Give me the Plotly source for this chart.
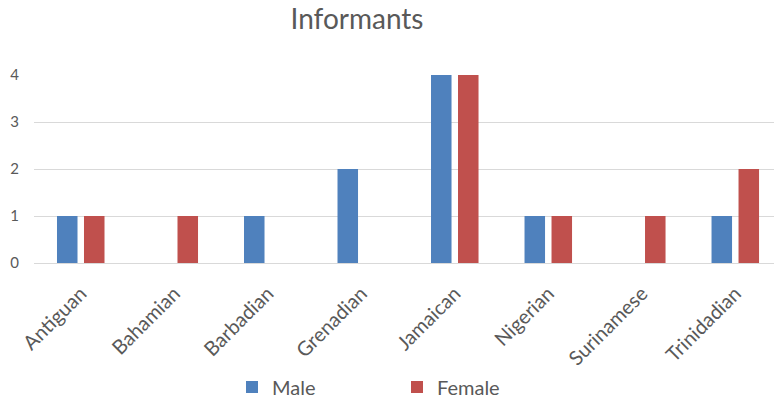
import plotly.graph_objects as go

# Informant counts by nationality and sex
categories = ["Antiguan", "Bahamian", "Barbadian", "Grenadian",
              "Jamaican", "Nigerian", "Surinamese", "Trinidadian"]
male = [1, 0, 1, 2, 4, 1, 0, 1]
female = [1, 1, 0, 0, 4, 1, 1, 2]
y_ticks = [0, 1, 2, 3, 4]

FONT = "Lato, 'Open Sans', sans-serif"
GREY = "#595959"

fig = go.Figure()
fig.add_trace(go.Bar(name="Male", x=categories, y=male, marker_color="#4F81BD",
                     marker_line_width=0))
fig.add_trace(go.Bar(name="Female", x=categories, y=female, marker_color="#C0504D",
                     marker_line_width=0))

fig.update_layout(
    width=774, height=400,
    margin=dict(l=34, r=0, t=75, b=137, autoexpand=False),
    paper_bgcolor="white", plot_bgcolor="white",
    barmode="group", bargap=0.4225, bargroupgap=0.24,
    title=dict(text="Informants", x=357 / 774, xanchor="center",
               y=1 - 19 / 400, yanchor="middle",
               font=dict(family=FONT, size=28, color=GREY)),
    font=dict(family=FONT, color=GREY),
    legend=dict(orientation="h", x=(232 - 34) / 740, xanchor="left",
                y=-(387 - 263) / 188, yanchor="middle",
                entrywidth=120, entrywidthmode="pixels",
                font=dict(family=FONT, size=20, color=GREY)),
    showlegend=True,
)
fig.update_xaxes(range=[-0.5, 7.414], showgrid=False, showline=False,
                 ticks="", tickangle=-45, ticklabelstandoff=14,
                 automargin=False,
                 tickfont=dict(family=FONT, size=20, color=GREY))
fig.update_yaxes(range=[0, 4], tickvals=y_ticks, showgrid=True,
                 gridcolor="#D9D9D9", gridwidth=1, zeroline=True,
                 zerolinecolor="#D9D9D9", zerolinewidth=1,
                 ticks="", ticklabelstandoff=14, automargin=False,
                 tickfont=dict(family=FONT, size=15, color=GREY))

fig.write_html("out.html")
